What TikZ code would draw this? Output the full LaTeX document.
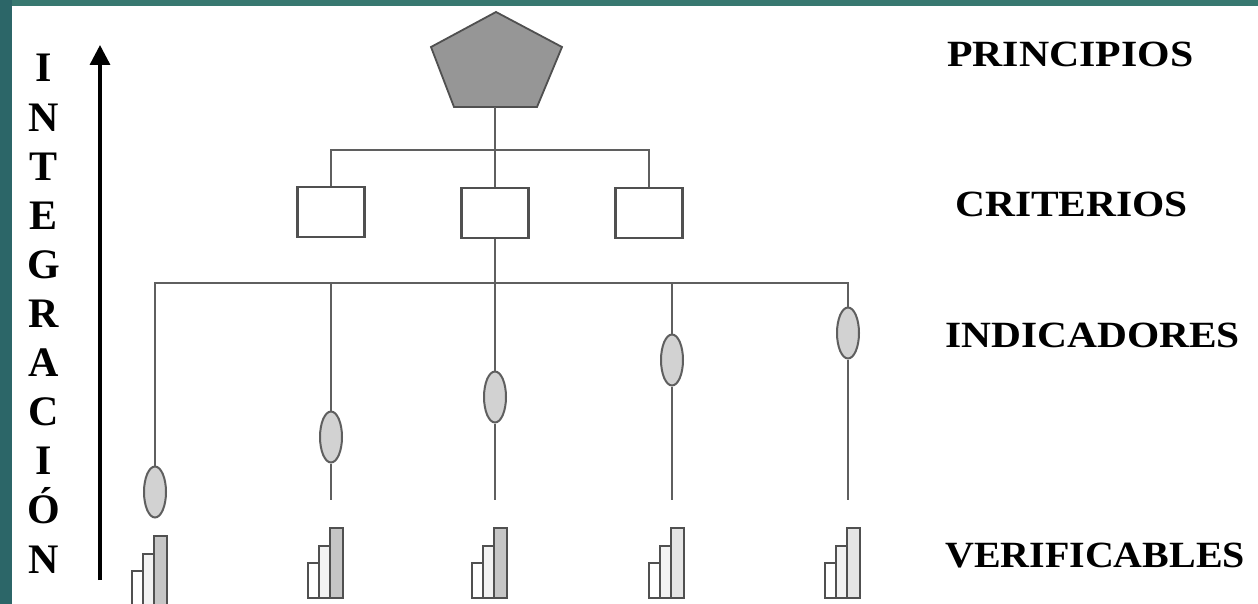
\documentclass[tikz,border=0pt]{standalone}
\usepackage{fontspec}
\setmainfont{Liberation Serif}
\usetikzlibrary{shapes.geometric,arrows.meta}
\definecolor{framec}{RGB}{44,102,104}
\definecolor{framet}{RGB}{56,120,112}
\definecolor{linec}{RGB}{95,95,95}
\definecolor{boxc}{RGB}{80,80,80}
\definecolor{pentc}{RGB}{150,150,150}
\definecolor{ellc}{RGB}{210,210,210}
\newcommand\mybars[3]{%
  \draw[barline,fill=white] ({#1-23},{#2+563}) rectangle ({#1-12},{#2+598});
  \draw[barline,fill=gray!10] ({#1-12},{#2+546}) rectangle ({#1-1},{#2+598});
  \draw[barline,fill=#3] ({#1-1},{#2+528}) rectangle ({#1+12},{#2+598});
}
\begin{document}
\begin{tikzpicture}[x=1pt,y=-1pt,
  conn/.style={draw=linec,line width=2.6pt},
  crit/.style={draw=boxc,line width=2.8pt,fill=white,minimum width=67pt,minimum height=50pt,inner sep=0pt},
  ind/.style={ellipse,draw=linec,line width=2pt,fill=ellc,minimum width=22pt,minimum height=51pt,inner sep=0pt},
  barline/.style={draw=boxc,line width=2pt},
  lvl/.style={anchor=base west,inner sep=0pt,font=\fontsize{37}{40}\selectfont\bfseries},
  vl/.style={anchor=base,inner sep=0pt,font=\fontsize{42}{44}\selectfont\bfseries},
  arr/.style={line width=3.4pt,-{Triangle[width=20pt,length=20pt]}}]
\useasboundingbox (0,0) rectangle (1258,604);
\fill[framec] (0,0) rectangle (1258,604);
\fill[framet] (12,0) rectangle (1258,6);
\fill[white] (12,6) rectangle (1258,604);

% principle
\draw[draw=boxc,line width=1.8pt,fill=pentc] (496,12) -- (562,47) -- (537,107) -- (454,107) -- (431,47) -- cycle;
\coordinate (P) at (495,107);
\coordinate (J1) at (495,150);
\coordinate (J2) at (495,283);

% criteria
\node[crit] (B1) at (331,212) {};
\node[crit] (B2) at (495,213) {};
\node[crit] (B3) at (649,213) {};

% indicators
\node[ind] (E1) at (155,492) {};
\node[ind] (E2) at (331,437) {};
\node[ind] (E3) at (495,397) {};
\node[ind] (E4) at (672,360) {};
\node[ind] (E5) at (848,333) {};
\coordinate (V2) at (331,500);
\coordinate (V3) at (495,500);
\coordinate (V4) at (672,500);
\coordinate (V5) at (848,500);

% connectors
\draw[conn] (P) -- (J1);
\draw[conn] (B1.north) |- (J1) -| (B3.north);
\draw[conn] (J1) -- (B2.north);
\draw[conn] (B2.south) -- (J2);
\draw[conn] (E1.north) |- (J2) -| (E5.north);
\draw[conn] (J2) -- (E3.north);
\draw[conn] (E2.north) -- (E2.north |- J2);
\draw[conn] (E4.north) -- (E4.north |- J2);
\draw[conn] (E2.south) -- (V2);
\draw[conn] (E3.south) -- (V3);
\draw[conn] (E4.south) -- (V4);
\draw[conn] (E5.south) -- (V5);

% verifiable bars
\mybars{155}{8}{gray!45}
\mybars{331}{0}{gray!45}
\mybars{495}{0}{gray!45}
\mybars{672}{0}{gray!20}
\mybars{848}{0}{gray!20}

% integration arrow
\coordinate (A0) at (100,580);
\coordinate (A1) at (100,45);
\draw[arr] (A0) -- (A1);

% vertical word
\node[vl] (L1) at (44,82) {I};
\node[vl] (L2) at (44,131.1) {N};
\node[vl] (L3) at (44,180.2) {T};
\node[vl] (L4) at (44,229.3) {E};
\node[vl] (L5) at (44,278.4) {G};
\node[vl] (L6) at (44,327.5) {R};
\node[vl] (L7) at (44,376.6) {A};
\node[vl] (L8) at (44,425.7) {C};
\node[vl] (L9) at (44,474.8) {I};
\node[vl] (L10) at (44,523.9) {Ó};
\node[vl] (L11) at (44,573) {N};

% level labels
\node[lvl] (T1) at (947,67) {\scalebox{1.13}[1]{PRINCIPIOS}};
\node[lvl] (T2) at (955,217) {\scalebox{1.12}[1]{CRITERIOS}};
\node[lvl] (T3) at (945,347) {\scalebox{1.12}[1]{INDICADORES}};
\node[lvl] (T4) at (945,567) {\scalebox{1.08}[1]{VERIFICABLES}};
\end{tikzpicture}
\end{document}
